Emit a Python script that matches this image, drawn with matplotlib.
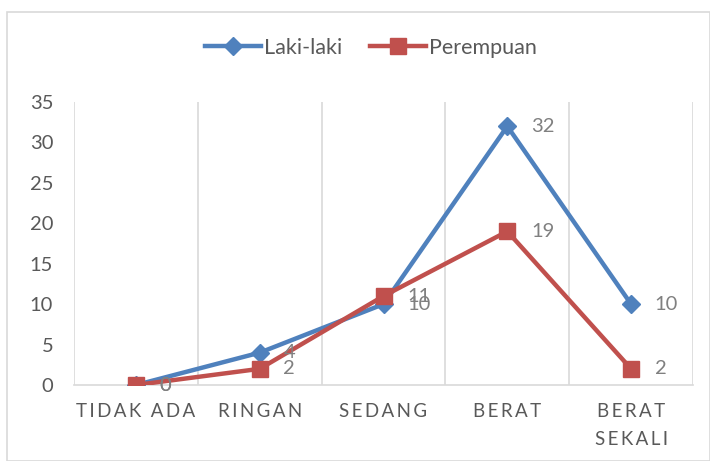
import matplotlib
matplotlib.use("Agg")
import matplotlib.pyplot as plt
from matplotlib.patches import Rectangle

categories = ["TIDAK ADA", "RINGAN", "SEDANG", "BERAT", "BERAT\nSEKALI"]
laki = [0, 4, 10, 32, 10]
perempuan = [0, 2, 11, 19, 2]
series_names = ["Laki-laki", "Perempuan"]
yticks = [0, 5, 10, 15, 20, 25, 30, 35]

plt.rcParams['font.family'] = ['Lato', 'DejaVu Sans']

BLUE = "#4F81BD"
RED = "#C0504D"
TXT = "#595959"
GRID = "#D9D9D9"
LBL = "#808080"

fig = plt.figure(figsize=(7.1, 4.61), dpi=100)
fig.patches.append(Rectangle((7/710, 0), 1 - 7/710 - 0.5/710, 1 - 12/461,
                             transform=fig.transFigure, fill=False,
                             edgecolor=GRID, linewidth=1.2))
ax = fig.add_axes([74/710, 76/461, (693-74)/710, (385-102)/461])

x = list(range(len(categories)))
ax.plot(x, laki, color=BLUE, lw=3.2, marker='D', markersize=9,
        markerfacecolor=BLUE, markeredgecolor=BLUE, label=series_names[0],
        solid_joinstyle='round', zorder=3)
ax.plot(x, perempuan, color=RED, lw=3.2, marker='s', markersize=11.5,
        markerfacecolor=RED, markeredgecolor=RED, label=series_names[1],
        solid_joinstyle='round', zorder=4)

for xi, v in zip(x, laki):
    ax.annotate(str(v), (xi, v), xytext=(17, 0), textcoords='offset points',
                ha='left', va='center', fontsize=14.5, color=LBL, zorder=5)
for xi, v in zip(x, perempuan):
    ax.annotate(str(v), (xi, v), xytext=(17, 0), textcoords='offset points',
                ha='left', va='center', fontsize=14.5, color=LBL, zorder=5)

ax.set_xlim(-0.5, len(categories) - 0.5)
ax.set_ylim(0, 35)
ax.set_yticks(yticks)
ax.set_yticklabels([str(t) for t in yticks], fontsize=14.5, color=TXT)
ax.tick_params(axis='y', length=0, pad=15)

ax.set_xticks(x)
spaced = ["\n".join("\u2009".join(list(w)) for w in c.split("\n")) for c in categories]
ax.set_xticklabels(spaced, fontsize=13.5, color=TXT, linespacing=1.75)
ax.tick_params(axis='x', length=0, pad=13)

ax.set_xticks([i + 0.5 for i in range(-1, len(categories))], minor=True)
ax.tick_params(axis='x', which='minor', length=0)
ax.grid(True, axis='x', which='minor', color=GRID, lw=1.2)
ax.grid(False, axis='x', which='major')
ax.grid(False, axis='y')

for s in ['top', 'right', 'left']:
    ax.spines[s].set_visible(False)
ax.spines['bottom'].set_color(GRID)
ax.spines['bottom'].set_linewidth(1.2)

fig.legend(loc='center', bbox_to_anchor=(371/710, 1 - 48/461), ncol=2,
           frameon=False, fontsize=15.5, handlelength=2.6, handletextpad=0.15,
           columnspacing=1.3, labelcolor=TXT)

fig.savefig("out.png", dpi=100)
